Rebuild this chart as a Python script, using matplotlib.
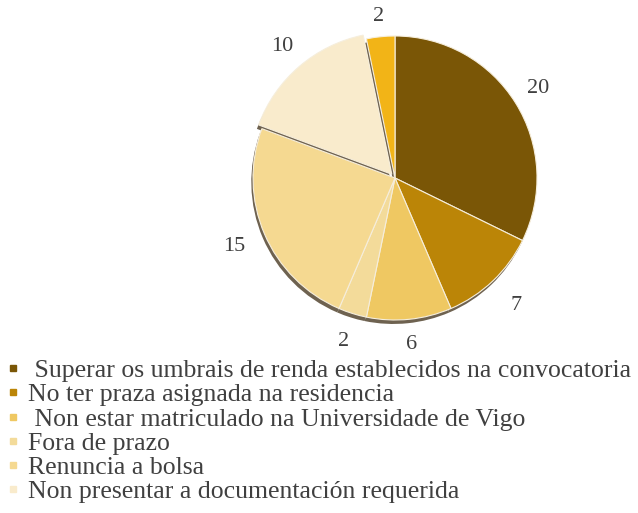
import numpy as np
import matplotlib.pyplot as plt
from matplotlib.lines import Line2D

labels = [' Superar os umbrais de renda establecidos na convocatoria',
          'No ter praza asignada na residencia',
          ' Non estar matriculado na Universidade de Vigo',
          'Fora de prazo',
          'Renuncia a bolsa',
          'Non presentar a documentación requerida']
values = [20, 7, 6, 2, 15, 10, 2]
colors = ['#7a5606', '#bb8507', '#efc862', '#f3db9a', '#f5d991', '#f9ebcc', '#f2b417']
explode = [0, 0, 0, 0, 0, 0.035, 0]
label_dist = [1.19, 1.24, 1.18, 1.21, 1.23, 1.22, 1.14]

plt.rcParams['font.family'] = ['Liberation Serif', 'DejaVu Serif']

fig = plt.figure(figsize=(6.38, 5.13), dpi=100)
ax = fig.add_axes([253 / 638, 1 - 320 / 513, 284 / 638, 284 / 513])

# shadow pie, slightly shifted down
ax.pie(values, startangle=90, counterclock=False, explode=explode,
       colors=['#6e6250'] * len(values), center=(-0.012, -0.028),
       wedgeprops=dict(linewidth=0))
wedges, _ = ax.pie(values, startangle=90, counterclock=False, explode=explode,
                   colors=colors,
                   wedgeprops=dict(edgecolor='#f6eedc', linewidth=0.8))
for w, v, d in zip(wedges, values, label_dist):
    ang = np.deg2rad((w.theta1 + w.theta2) / 2)
    ax.text(d * np.cos(ang), d * np.sin(ang), str(v), ha='center', va='center',
            fontsize=16, color='#404040')
ax.set_xlim(-1.0, 1.0)
ax.set_ylim(-1.0, 1.0)

handles = [Line2D([], [], marker='s', linestyle='none', markersize=5,
                  color=c) for c in colors[:6]]
fig.legend(handles, labels, loc='upper left', bbox_to_anchor=(0.008, 1 - 359 / 513),
           frameon=False, fontsize=18.5, handlelength=0.6, handletextpad=0.3,
           labelspacing=0.05, borderaxespad=0, borderpad=0,
           labelcolor='#404040')

fig.savefig('out.png', dpi=100)
